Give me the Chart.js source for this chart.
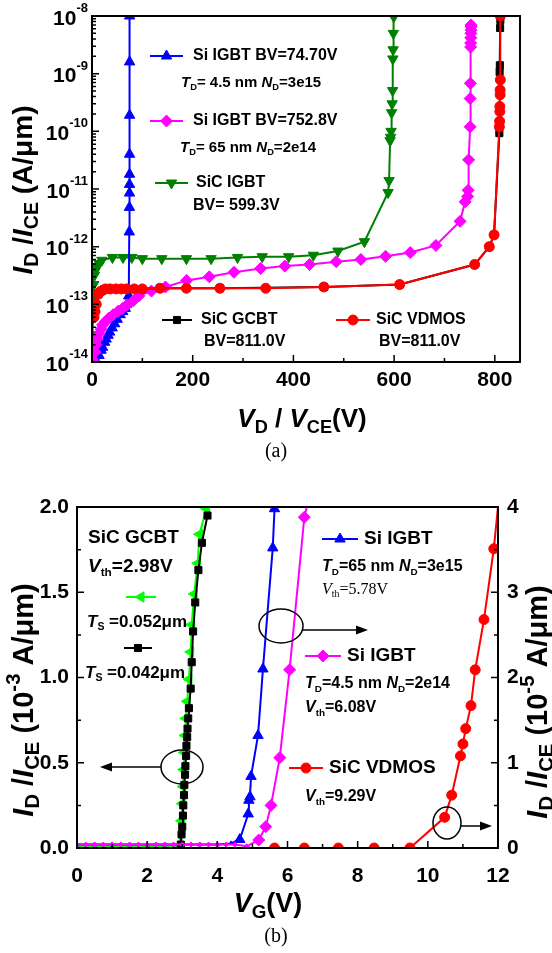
<!DOCTYPE html>
<html>
<head>
<meta charset="utf-8">
<script src="https://cdn.jsdelivr.net/npm/chart.js@4.4.1/dist/chart.umd.min.js"></script>
<style>
  html, body { margin: 0; padding: 0; background: #fff; }
  #wrap { position: relative; width: 552px; height: 953px; }
  canvas { position: absolute; left: 0; }
  #topChart { top: 0; }
  #botChart { top: 480px; }
</style>
</head>
<body>
<div id="wrap">
  <canvas id="topChart" width="552" height="480"></canvas>
  <canvas id="botChart" width="552" height="473"></canvas>
</div>
<script>
// ---------- (a) breakdown curves: V_D / V_CE (V) vs I_D / I_CE (A/um) ----------
const siIgbt75V = [10, 14, 18, 21, 25, 28, 32, 35, 40, 45, 50, 56, 61, 66, 69, 73, 74, 74.3, 74.5, 74.5, 74.6, 74.6, 74.7, 74.7, 74.7];
const siIgbt75I = [1.0e-14, 1.3e-14, 1.6e-14, 1.8e-14, 2.2e-14, 2.5e-14, 2.9e-14, 3.3e-14, 3.9e-14, 4.6e-14, 5.5e-14, 6.6e-14, 7.5e-14, 8.5e-14, 1.0e-13, 1.4e-13, 1.8e-12, 4.8e-12, 8.5e-12, 1.2e-11, 1.8e-11, 4e-11, 1.9e-10, 1.6e-9, 1e-8];

const siIgbt753V = [5, 6, 8, 10.5, 14, 18, 21, 27, 34, 42, 52, 61, 70, 82, 93, 118, 146, 188, 233, 282, 335, 383, 432, 485, 534, 583, 632, 683, 731, 741, 746, 747, 748, 751, 751, 751.5, 752, 752, 752.3, 752.5, 752.8, 752.8, 752.8];
const siIgbt753I = [1e-14, 1.5e-14, 2e-14, 2.5e-14, 3.1e-14, 3.7e-14, 4.4e-14, 5.1e-14, 5.8e-14, 6.6e-14, 7.6e-14, 8.5e-14, 9.8e-14, 1.15e-13, 1.4e-13, 1.7e-13, 2.0e-13, 2.6e-13, 3.0e-13, 3.6e-13, 4.2e-13, 4.6e-13, 4.9e-13, 5.5e-13, 6.0e-13, 6.8e-13, 7.9e-13, 1.05e-12, 2.75e-12, 6e-12, 7.4e-12, 9.5e-12, 3.2e-11, 1.2e-10, 3.7e-10, 6.8e-10, 2.9e-9, 3.4e-9, 4.2e-9, 5e-9, 5.7e-9, 6.5e-9, 7e-9];

const sicIgbtV = [0.5, 1.4, 2.5, 3.5, 5, 7, 10, 14, 19.6, 40.6, 61.6, 79, 100, 138.6, 187.5, 236.5, 289, 338, 390.5, 439.5, 488.5, 541, 588, 590, 592, 593, 594, 595, 596, 597, 597.5, 598, 598.5, 599.3];
const sicIgbtI = [3e-14, 5.6e-14, 1.2e-13, 2.2e-13, 3.2e-13, 3.9e-13, 4.5e-13, 5.1e-13, 5.8e-13, 6.5e-13, 6.5e-13, 6.5e-13, 6.2e-13, 6.2e-13, 6.2e-13, 6.2e-13, 6.5e-13, 6.7e-13, 6.7e-13, 7.1e-13, 8.4e-13, 1.22e-12, 8.7e-12, 1.4e-11, 6.9e-11, 7.9e-11, 1.0e-10, 2.1e-10, 3e-10, 5.1e-10, 1.8e-9, 2.6e-9, 5e-9, 9.7e-9];

const sicGcbtV = [4, 8, 12.6, 21, 36, 58, 84, 135, 254, 460.5, 611, 760, 789, 798.5, 809, 809.5, 810, 810.5, 811, 811];
const sicGcbtI = [6e-14, 1e-13, 1.5e-13, 1.75e-13, 1.85e-13, 1.85e-13, 1.85e-13, 1.9e-13, 1.9e-13, 2.0e-13, 2.2e-13, 4.9e-13, 1.0e-12, 1.6e-12, 9.3e-11, 1.07e-9, 1.4e-9, 6.2e-9, 8.5e-9, 1e-8];

const sicVdmosV = [4, 6, 8.4, 12.6, 16, 21, 26.6, 36, 47.6, 58, 68.6, 84, 100, 135, 187.5, 254, 345, 460.5, 611, 760, 789, 798.5, 809, 809.5, 810, 810, 810.5, 810.5, 811, 811];
const sicVdmosI = [6e-14, 7.5e-14, 1e-13, 1.5e-13, 1.65e-13, 1.75e-13, 1.85e-13, 1.85e-13, 1.85e-13, 1.85e-13, 1.85e-13, 1.85e-13, 1.85e-13, 1.9e-13, 1.9e-13, 1.9e-13, 1.9e-13, 2.0e-13, 2.2e-13, 4.9e-13, 1.0e-12, 1.6e-12, 1.2e-10, 1.5e-10, 2.2e-10, 2.7e-10, 4.3e-10, 5.2e-10, 7.8e-10, 1e-8];

const topXTicks = [0, 200, 400, 600, 800];
const topYExponents = [-8, -9, -10, -11, -12, -13, -14];

// ---------- (b) transfer curves: V_G (V) vs I_D / I_CE ----------
// left axis (1e-3 A/um)
const gcbt52V = [0, 0.5, 1, 1.5, 2, 2.5, 2.8, 2.9, 2.95, 2.98, 3.0, 3.02, 3.04, 3.06, 3.08, 3.1, 3.14, 3.19, 3.24, 3.27, 3.34, 3.44, 3.49, 3.69];
const gcbt52I = [0.01, 0.01, 0.01, 0.01, 0.01, 0.01, 0.01, 0.02, 0.06, 0.16, 0.26, 0.36, 0.46, 0.56, 0.66, 0.76, 0.86, 0.99, 1.15, 1.31, 1.49, 1.67, 1.84, 1.99];
const gcbt42V = [2.96, 2.98, 3.0, 3.02, 3.03, 3.05, 3.06, 3.08, 3.09, 3.11, 3.12, 3.14, 3.15, 3.17, 3.19, 3.24, 3.27, 3.31, 3.37, 3.46, 3.56, 3.72];
const gcbt42I = [0.02, 0.08, 0.125, 0.19, 0.25, 0.31, 0.37, 0.43, 0.48, 0.54, 0.6, 0.65, 0.7, 0.76, 0.82, 0.935, 1.09, 1.27, 1.44, 1.63, 1.79, 1.95];
// right axis (1e-5 A/um)
const igbt65V = [0, 0.5, 1, 1.5, 2, 2.5, 3, 3.5, 4, 4.39, 4.64, 4.88, 4.9, 4.93, 4.96, 5.16, 5.30, 5.58, 5.63];
const igbt65I = [0.04, 0.04, 0.04, 0.04, 0.04, 0.04, 0.04, 0.04, 0.04, 0.054, 0.10, 0.40, 0.56, 0.60, 0.84, 1.32, 2.1, 3.52, 3.98];
const igbt45V = [0, 0.25, 0.5, 0.75, 1, 1.25, 1.5, 1.75, 2, 2.25, 2.5, 2.75, 3, 3.25, 3.5, 3.75, 4, 4.25, 4.5, 4.84, 5.18, 5.38, 5.53, 5.78, 6.06, 6.48, 6.55];
const igbt45I = [0.04, 0.04, 0.04, 0.04, 0.04, 0.04, 0.04, 0.04, 0.04, 0.04, 0.04, 0.04, 0.04, 0.04, 0.04, 0.04, 0.04, 0.04, 0.04, 0.02, 0.094, 0.25, 0.5, 1.06, 2.09, 3.88, 4.0];
const vdmosV = [5.63, 6.48, 7.45, 8.47, 9.49, 10.48, 10.68, 10.93, 11.0, 11.08, 11.23, 11.35, 11.6, 11.88, 12.0];
const vdmosI = [0, 0, 0, 0, 0, 0.36, 0.62, 1.08, 1.22, 1.40, 1.67, 2.09, 2.68, 3.51, 4.0];

const botXTicks = [0, 2, 4, 6, 8, 10, 12];
const botLeftTicks = [0, 0.5, 1.0, 1.5, 2.0];
const botRightTicks = [0, 1, 2, 3, 4];

const SANS = '"Liberation Sans", Arial, sans-serif';
const SERIF = '"Liberation Serif", "Times New Roman", serif';

const pts = (xs, ys) => xs.map((x, i) => ({ x: x, y: ys[i] }));

const series = (label, xs, ys, color, style, rot, r, order, extra) => Object.assign({
  label: label,
  data: pts(xs, ys),
  borderColor: color,
  backgroundColor: color,
  pointStyle: style,
  rotation: rot,
  pointRadius: r,
  pointBorderWidth: 1,
  borderWidth: 2,
  tension: 0,
  fill: false,
  order: order
}, extra || {});

// text with italic / subscript / superscript runs
function rich(ctx, x, y, parts, size, o) {
  o = o || {};
  const fam = o.family || SANS;
  const wt = o.weight || 'bold';
  const ss = o.subScale || 0.62;
  const font = k => {
    const s = (k === 'b' || k === 'p') ? size * ss : size;
    return (k === 'i' ? 'italic ' : '') + wt + ' ' + s.toFixed(1) + 'px ' + fam;
  };
  let w = 0;
  parts.forEach(p => { ctx.font = font(p[1]); w += ctx.measureText(p[0]).width; });
  let cx = o.align === 'center' ? x - w / 2 : o.align === 'right' ? x - w : x;
  ctx.textAlign = 'left';
  ctx.textBaseline = 'middle';
  parts.forEach(p => {
    ctx.font = font(p[1]);
    const dy = p[1] === 'b' ? size * 0.3 : p[1] === 'p' ? -size * (o.supShift || 0.38) : 0;
    ctx.fillText(p[0], cx, y + dy);
    cx += ctx.measureText(p[0]).width;
  });
}

function vrich(ctx, x, y, parts, size) {
  ctx.save();
  ctx.translate(x, y);
  ctx.rotate(-Math.PI / 2);
  rich(ctx, 0, 0, parts, size, { align: 'center', subScale: 0.7 });
  ctx.restore();
}

function sample(ctx, x1, x2, y, color, style, rot, r) {
  ctx.save();
  ctx.strokeStyle = color;
  ctx.fillStyle = color;
  ctx.lineWidth = 2;
  ctx.beginPath();
  ctx.moveTo(x1, y);
  ctx.lineTo(x2, y);
  ctx.stroke();
  ctx.lineWidth = 1;
  Chart.helpers.drawPoint(ctx, { pointStyle: style, rotation: rot, radius: r, borderWidth: 1 }, (x1 + x2) / 2, y);
  ctx.restore();
}

function arrow(ctx, x1, y1, x2, y2) {
  const dir = Math.sign(x2 - x1);
  ctx.beginPath();
  ctx.moveTo(x1, y1);
  ctx.lineTo(x2 - dir * 8, y2);
  ctx.stroke();
  ctx.beginPath();
  ctx.moveTo(x2, y2);
  ctx.lineTo(x2 - dir * 12, y2 - 4.5);
  ctx.lineTo(x2 - dir * 12, y2 + 4.5);
  ctx.closePath();
  ctx.fill();
}

function oval(ctx, cx, cy, rx, ry) {
  ctx.beginPath();
  ctx.ellipse(cx, cy, rx, ry, 0, 0, Math.PI * 2);
  ctx.stroke();
}

// ---------- chart (a) ----------
const topDecor = {
  id: 'topDecor',
  afterDraw(chart) {
    const ctx = chart.ctx, a = chart.chartArea;
    const sx = chart.scales.x, sy = chart.scales.y;
    ctx.save();
    ctx.strokeStyle = '#000';
    ctx.fillStyle = '#000';
    ctx.lineWidth = 2;
    ctx.strokeRect(a.left, a.top, a.right - a.left, a.bottom - a.top);
    ctx.lineWidth = 1.5;
    ctx.beginPath();
    for (let v = 0; v <= 800; v += 100) {
      const p = sx.getPixelForValue(v);
      ctx.moveTo(p, a.bottom);
      ctx.lineTo(p, a.bottom - (v % 200 === 0 ? 7 : 4));
    }
    topYExponents.forEach(e => {
      const p = sy.getPixelForValue(Math.pow(10, e));
      ctx.moveTo(a.left, p);
      ctx.lineTo(a.left + 7, p);
    });
    for (let e = -14; e < -8; e++) {
      for (let m = 2; m <= 9; m++) {
        const p = sy.getPixelForValue(m * Math.pow(10, e));
        ctx.moveTo(a.left, p);
        ctx.lineTo(a.left + 4, p);
      }
    }
    ctx.stroke();

    topXTicks.forEach(v => rich(ctx, sx.getPixelForValue(v), 380, [[String(v), '']], 21, { align: 'center' }));
    topYExponents.forEach(e => rich(ctx, 88, sy.getPixelForValue(Math.pow(10, e)) + 3, [['10', ''], [String(e), 'p']], 21, { align: 'right', supShift: 0.5 }));

    rich(ctx, 302, 420, [['V', 'i'], ['D', 'b'], [' / ', ''], ['V', 'i'], ['CE', 'b'], ['(V)', '']], 26, { align: 'center', subScale: 0.7 });
    vrich(ctx, 24, 190, [['I', 'i'], ['D', 'b'], [' /', ''], ['I', 'i'], ['CE', 'b'], [' (A/\u03bcm)', '']], 28);
    rich(ctx, 276, 452, [['(a)', '']], 20, { align: 'center', family: SERIF, weight: 'normal' });

    // legend
    sample(ctx, 150, 183, 56, '#0000ff', 'triangle', 0, 6);
    rich(ctx, 193, 56, [['Si IGBT BV=74.70V', '']], 16);
    rich(ctx, 181, 83, [['T', 'i'], ['D', 'b'], ['= 4.5 nm ', ''], ['N', 'i'], ['D', 'b'], ['=3e15', '']], 15);
    sample(ctx, 150, 183, 121, '#ff00ff', 'rectRot', 0, 6);
    rich(ctx, 193, 121, [['Si IGBT BV=752.8V', '']], 16);
    rich(ctx, 180, 148, [['T', 'i'], ['D', 'b'], ['= 65 nm ', ''], ['N', 'i'], ['D', 'b'], ['=2e14', '']], 15);
    sample(ctx, 155, 188, 183, '#008000', 'triangle', 180, 6);
    rich(ctx, 196, 183, [['SiC IGBT', '']], 16);
    rich(ctx, 193, 206, [['BV= 599.3V', '']], 16);
    sample(ctx, 162, 192, 320, '#000000', 'rect', 0, 5);
    rich(ctx, 201, 320, [['SiC GCBT', '']], 16);
    rich(ctx, 204, 342, [['BV=811.0V', '']], 16);
    sample(ctx, 336, 370, 320, '#ff0000', 'circle', 0, 5);
    rich(ctx, 376, 320, [['SiC VDMOS', '']], 16);
    rich(ctx, 379, 342, [['BV=811.0V', '']], 16);
    ctx.restore();
  }
};

new Chart(document.getElementById('topChart'), {
  type: 'line',
  data: {
    datasets: [
      series('SiC VDMOS', sicVdmosV, sicVdmosI, '#ff0000', 'circle', 0, 5, 0),
      series('SiC GCBT', sicGcbtV, sicGcbtI, '#000000', 'rect', 0, 5, 1),
      series('Si IGBT 752.8V', siIgbt753V, siIgbt753I, '#ff00ff', 'rectRot', 0, 6, 2),
      series('Si IGBT 74.70V', siIgbt75V, siIgbt75I, '#0000ff', 'triangle', 0, 6, 3),
      series('SiC IGBT', sicIgbtV, sicIgbtI, '#008000', 'triangle', 180, 6, 4)
    ]
  },
  options: {
    responsive: false,
    animation: false,
    layout: { padding: { left: 92, right: 32, top: 16, bottom: 118 } },
    plugins: { legend: { display: false }, tooltip: { enabled: false } },
    scales: {
      x: { type: 'linear', min: 0, max: 850, display: false },
      y: { type: 'logarithmic', min: 1e-14, max: 1e-8, display: false }
    }
  },
  plugins: [topDecor]
});

// ---------- chart (b) ----------
// tiny markers along the off-state floor, none where a curve leaves the frame
const markerSize = (r, top) => c => {
  const y = c.raw ? c.raw.y : 0;
  if (y >= top) return 0;
  return y > 0 && y < 0.08 ? 2.5 : r;
};

const botDecor = {
  id: 'botDecor',
  afterDraw(chart) {
    const ctx = chart.ctx, a = chart.chartArea;
    const sx = chart.scales.x, sy = chart.scales.y, sy1 = chart.scales.y1;
    ctx.save();
    ctx.strokeStyle = '#000';
    ctx.fillStyle = '#000';
    ctx.lineWidth = 2;
    ctx.strokeRect(a.left, a.top, a.right - a.left, a.bottom - a.top);
    ctx.lineWidth = 1.5;
    ctx.beginPath();
    for (let v = 1; v < 12; v++) {
      const p = sx.getPixelForValue(v);
      ctx.moveTo(p, a.bottom);
      ctx.lineTo(p, a.bottom - (v % 2 === 0 ? 7 : 4));
    }
    for (let v = 0.25; v < 2; v += 0.25) {
      const p = sy.getPixelForValue(v);
      ctx.moveTo(a.left, p);
      ctx.lineTo(a.left + (Math.abs(v * 2 - Math.round(v * 2)) < 1e-6 ? 7 : 4), p);
    }
    for (let v = 0.5; v < 4; v += 0.5) {
      const p = sy1.getPixelForValue(v);
      ctx.moveTo(a.right, p);
      ctx.lineTo(a.right - (v % 1 === 0 ? 7 : 4), p);
    }
    ctx.stroke();

    botXTicks.forEach(v => rich(ctx, sx.getPixelForValue(v), 396, [[String(v), '']], 21, { align: 'center' }));
    botLeftTicks.forEach(v => rich(ctx, 69, sy.getPixelForValue(v), [[v.toFixed(1), '']], 21, { align: 'right' }));
    botRightTicks.forEach(v => rich(ctx, 507, sy1.getPixelForValue(v), [[String(v), '']], 21));

    rich(ctx, 268, 425, [['V', 'i'], ['G', 'b'], ['(V)', '']], 27, { align: 'center', subScale: 0.7 });
    vrich(ctx, 25, 220, [['I', 'i'], ['D', 'b'], [' /', ''], ['I', 'i'], ['CE', 'b'], [' (10', ''], ['-3', 'p'], [' A/\u03bcm)', '']], 29);
    vrich(ctx, 539, 222, [['I', 'i'], ['D', 'b'], [' /', ''], ['I', 'i'], ['CE', 'b'], [' (10', ''], ['-5', 'p'], [' A/\u03bcm)', '']], 29);
    rich(ctx, 276, 457, [['(b)', '']], 20, { align: 'center', family: SERIF, weight: 'normal' });

    // left group
    rich(ctx, 88, 58, [['SiC GCBT', '']], 19);
    rich(ctx, 88, 87, [['V', 'i'], ['th', 'b'], ['=2.98V', '']], 19);
    sample(ctx, 126, 156, 117, '#00ff00', 'triangle', -90, 6);
    rich(ctx, 87, 142, [['T', 'i'], ['S', 'b'], [' =0.052\u03bcm', '']], 17);
    sample(ctx, 124, 152, 168, '#000000', 'rect', 0, 5);
    rich(ctx, 85, 193, [['T', 'i'], ['S', 'b'], [' =0.042\u03bcm', '']], 17);

    // right group
    sample(ctx, 322, 358, 59, '#0000ff', 'triangle', 0, 6);
    rich(ctx, 364, 59, [['Si IGBT', '']], 19);
    rich(ctx, 322, 87, [['T', 'i'], ['D', 'b'], ['=65 nm ', ''], ['N', 'i'], ['D', 'b'], ['=3e15', '']], 16);
    rich(ctx, 322, 110, [['V', 'i'], ['th', 'b'], ['=5.78V', '']], 16, { family: SERIF, weight: 'normal' });
    sample(ctx, 305, 341, 176, '#ff00ff', 'rectRot', 0, 6);
    rich(ctx, 347, 176, [['Si IGBT', '']], 19);
    rich(ctx, 305, 204, [['T', 'i'], ['D', 'b'], ['=4.5 nm ', ''], ['N', 'i'], ['D', 'b'], ['=2e14', '']], 16);
    rich(ctx, 305, 228, [['V', 'i'], ['th', 'b'], ['=6.08V', '']], 16);
    sample(ctx, 289, 323, 288, '#ff0000', 'circle', 0, 5);
    rich(ctx, 329, 288, [['SiC VDMOS', '']], 19);
    rich(ctx, 305, 317, [['V', 'i'], ['th', 'b'], ['=9.29V', '']], 16);

    // axis pointers
    ctx.lineWidth = 1.5;
    oval(ctx, 281, 146, 22, 17);
    arrow(ctx, 303, 150, 368, 150);
    oval(ctx, 182, 287, 21, 17);
    arrow(ctx, 161, 287, 100, 287);
    oval(ctx, 447, 343, 14, 16);
    arrow(ctx, 461, 346, 492, 346);
    ctx.restore();
  }
};

new Chart(document.getElementById('botChart'), {
  type: 'line',
  data: {
    datasets: [
      series('SiC VDMOS', vdmosV, vdmosI, '#ff0000', 'circle', 0, markerSize(5, 4), 0, { yAxisID: 'y1' }),
      series('Si IGBT 4.5nm', igbt45V, igbt45I, '#ff00ff', 'rectRot', 0, markerSize(6, 4), 1, { yAxisID: 'y1' }),
      series('Si IGBT 65nm', igbt65V, igbt65I, '#0000ff', 'triangle', 0, markerSize(6, 4), 2, { yAxisID: 'y1' }),
      series('Ts=0.042um', gcbt42V, gcbt42I, '#000000', 'rect', 0, 5, 3, { yAxisID: 'y' }),
      series('Ts=0.052um', gcbt52V, gcbt52I, '#00ff00', 'triangle', -90, markerSize(6, 2), 4, { yAxisID: 'y' })
    ]
  },
  options: {
    responsive: false,
    animation: false,
    layout: { padding: { left: 77, right: 54, top: 27, bottom: 105 } },
    plugins: { legend: { display: false }, tooltip: { enabled: false } },
    scales: {
      x: { type: 'linear', min: 0, max: 12, display: false },
      y: { type: 'linear', position: 'left', min: 0, max: 2, display: false },
      y1: { type: 'linear', position: 'right', min: 0, max: 4, display: false }
    }
  },
  plugins: [botDecor]
});
</script>
</body>
</html>
